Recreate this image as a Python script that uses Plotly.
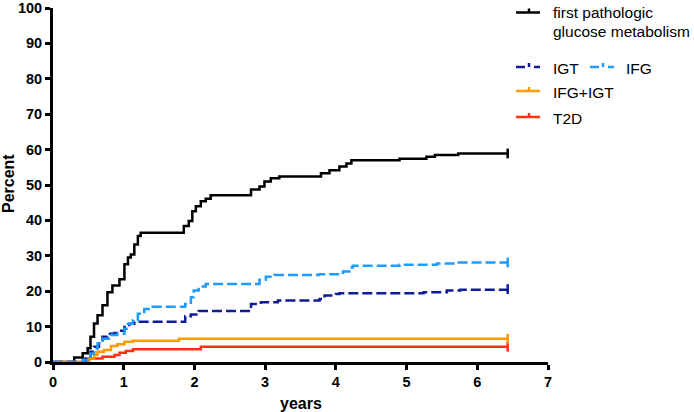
import plotly.graph_objects as go

# ---- data ----
black_x = [0, 0.30, 0.42, 0.49, 0.53, 0.58, 0.63, 0.70, 0.77, 0.84, 0.94, 1.01, 1.06, 1.10, 1.15, 1.20, 1.24,
           1.85, 1.92, 1.97, 2.02, 2.09, 2.16, 2.23, 2.80, 2.92, 2.99, 3.08, 3.20, 3.79, 3.91, 4.05, 4.15, 4.22,
           4.90, 5.28, 5.40, 5.73, 6.43]
black_y = [0, 1.3, 2.5, 3.9, 7.1, 10.9, 13.2, 16.0, 19.7, 21.6, 23.4, 27.6, 29.5, 30.4, 33.2, 35.6, 36.5,
           38.4, 39.8, 42.6, 44.0, 45.4, 46.1, 47.1, 48.7, 49.6, 51.0, 51.9, 52.4, 53.3, 54.2, 55.2, 56.1, 57.0,
           57.4, 58.0, 58.5, 58.9, 58.9]

ifg_x = [0, 0.42, 0.49, 0.53, 0.58, 0.63, 0.70, 0.79, 0.91, 1.01, 1.06, 1.13, 1.20, 1.29, 1.41, 1.87, 1.95,
         1.99, 2.06, 2.16, 2.92, 3.01, 3.13, 3.76, 4.10, 4.19, 4.24, 4.90, 5.43, 5.71, 6.43]
ifg_y = [0, 0.5, 1.5, 2.4, 3.8, 5.2, 6.6, 7.6, 8.0, 9.4, 10.8, 11.8, 13.6, 15.0, 15.6, 16.4, 18.3,
         20.2, 21.3, 22.0, 23.2, 24.1, 24.6, 24.8, 25.6, 26.7, 27.2, 27.5, 27.8, 28.1, 28.1]

igt_x = [0, 0.46, 0.53, 0.58, 0.65, 0.70, 0.77, 0.87, 0.94, 1.01, 1.08, 1.15, 1.87, 1.95, 2.06, 2.80, 2.94,
         3.18, 3.77, 3.84, 4.00, 4.05, 5.24, 5.57, 5.76, 6.43]
igt_y = [0, 1.0, 2.9, 4.3, 5.7, 7.1, 8.0, 8.2, 8.8, 9.9, 10.8, 11.4, 12.9, 13.4, 14.4, 16.4, 16.9,
         17.4, 17.8, 18.8, 19.2, 19.4, 19.7, 20.2, 20.4, 20.6]

both_x = [0, 0.44, 0.51, 0.58, 0.63, 0.72, 0.82, 0.91, 1.01, 1.13, 1.78, 6.43]
both_y = [0, 0.4, 1.0, 2.0, 2.9, 3.4, 4.5, 5.0, 5.7, 6.0, 6.6, 6.6]

t2d_x = [0, 0.51, 0.70, 0.87, 0.94, 1.03, 1.13, 2.09, 6.43]
t2d_y = [0, 1.0, 1.5, 2.0, 2.6, 3.1, 3.6, 4.3, 4.3]

x_ticks = [0, 1, 2, 3, 4, 5, 6, 7]
y_ticks = [0, 10, 20, 30, 40, 50, 60, 70, 80, 90, 100]

FONT = "Arial, Liberation Sans, sans-serif"
C_BLACK = "#000000"
C_IGT = "#101c96"
C_IFG = "#1e9cff"
C_BOTH = "#ff9a00"
C_T2D = "#ff3010"
DASH = "10px,4px"
LW = 2.5

series = [
    ("first pathologic glucose metabolism", black_x, black_y, C_BLACK, "solid"),
    ("T2D", t2d_x, t2d_y, C_T2D, "solid"),
    ("IFG+IGT", both_x, both_y, C_BOTH, "solid"),
    ("IGT", igt_x, igt_y, C_IGT, DASH),
    ("IFG", ifg_x, ifg_y, C_IFG, DASH),
]

fig = go.Figure()
for name, xs, ys, col, dash in series:
    fig.add_trace(go.Scatter(
        x=xs, y=ys, mode="lines", name=name,
        line=dict(color=col, width=LW, shape="hv", dash=dash),
        showlegend=False, hoverinfo="skip"))
    # censor mark at the last observation
    fig.add_trace(go.Scatter(
        x=[xs[-1]], y=[ys[-1]], mode="markers",
        marker=dict(symbol="line-ns", size=7, line=dict(color=col, width=LW)),
        showlegend=False, hoverinfo="skip", cliponaxis=False))

# ---- layout geometry in pixels ----
L, W = 53, 495      # plot left px, plot width px
T, H = 8, 354       # plot top px, plot height px


def px(xp):
    return (xp - L) / W


def py(yp):
    return (T + H - yp) / H


legend_items = [
    # (x0 line px, y px, color, dash, text, text x px)
    (516, 12.5, C_BLACK, "solid", None, 551),
    (516, 67, C_IGT, "dash", "IGT", 551),
    (590, 67, C_IFG, "dash", "IFG", 624),
    (516, 91, C_BOTH, "solid", "IFG+IGT", 551),
    (516, 117, C_T2D, "solid", "T2D", 551),
]
for x0, yy, col, dash, text, tx in legend_items:
    fig.add_shape(type="line", xref="paper", yref="paper",
                  x0=px(x0), x1=px(x0 + 24), y0=py(yy), y1=py(yy),
                  line=dict(color=col, width=LW, dash="dash" if dash == "dash" else "solid"))
    fig.add_shape(type="line", xref="paper", yref="paper",
                  x0=px(x0 + 13), x1=px(x0 + 13), y0=py(yy), y1=py(yy - 4),
                  line=dict(color=col, width=LW))
    if text:
        fig.add_annotation(xref="paper", yref="paper", x=px(tx), y=py(yy + 1),
                           text=text, showarrow=False, xanchor="left", yanchor="middle",
                           font=dict(family=FONT, size=15.5, color="#000000"))

fig.add_annotation(xref="paper", yref="paper", x=px(551), y=py(12),
                   text="first pathologic", showarrow=False, xanchor="left", yanchor="middle",
                   font=dict(family=FONT, size=15.5, color="#000000"))
fig.add_annotation(xref="paper", yref="paper", x=px(551), y=py(31),
                   text="glucose metabolism", showarrow=False, xanchor="left", yanchor="middle",
                   font=dict(family=FONT, size=15.5, color="#000000"))

# axis titles
fig.add_annotation(xref="paper", yref="paper", x=px(301), y=py(403),
                   text="<b>years</b>", showarrow=False, xanchor="center", yanchor="middle",
                   font=dict(family=FONT, size=16, color="#000000"))
fig.add_annotation(xref="paper", yref="paper", x=px(8), y=py(184),
                   text="<b>Percent</b>", showarrow=False, xanchor="center", yanchor="middle",
                   textangle=-90, font=dict(family=FONT, size=16, color="#000000"))

axis_common = dict(
    showline=True, linecolor="#000000", linewidth=3,
    ticks="outside", ticklen=5, tickwidth=2.5, tickcolor="#000000",
    showgrid=False, zeroline=False, layer="below traces", automargin=False,
    ticklabeloverflow="allow",
    tickfont=dict(family=FONT, size=14.5, color="#000000", weight="bold"),
)

fig.update_xaxes(range=[0, 7], tickvals=x_ticks, ticktext=[str(v) for v in x_ticks], **axis_common)
fig.update_yaxes(range=[0, 100], tickvals=y_ticks, ticktext=[str(v) for v in y_ticks], **axis_common)

fig.update_layout(
    width=694, height=412,
    margin=dict(l=L, r=694 - L - W, t=T, b=412 - T - H, autoexpand=False),
    plot_bgcolor="#ffffff", paper_bgcolor="#ffffff",
    showlegend=False,
    font=dict(family=FONT, color="#000000"),
)

fig.write_html("out.html",
               config={"displayModeBar": False},
               post_script="document.body.style.margin='0';document.body.style.padding='0';"
                           "document.body.style.overflow='hidden';")
